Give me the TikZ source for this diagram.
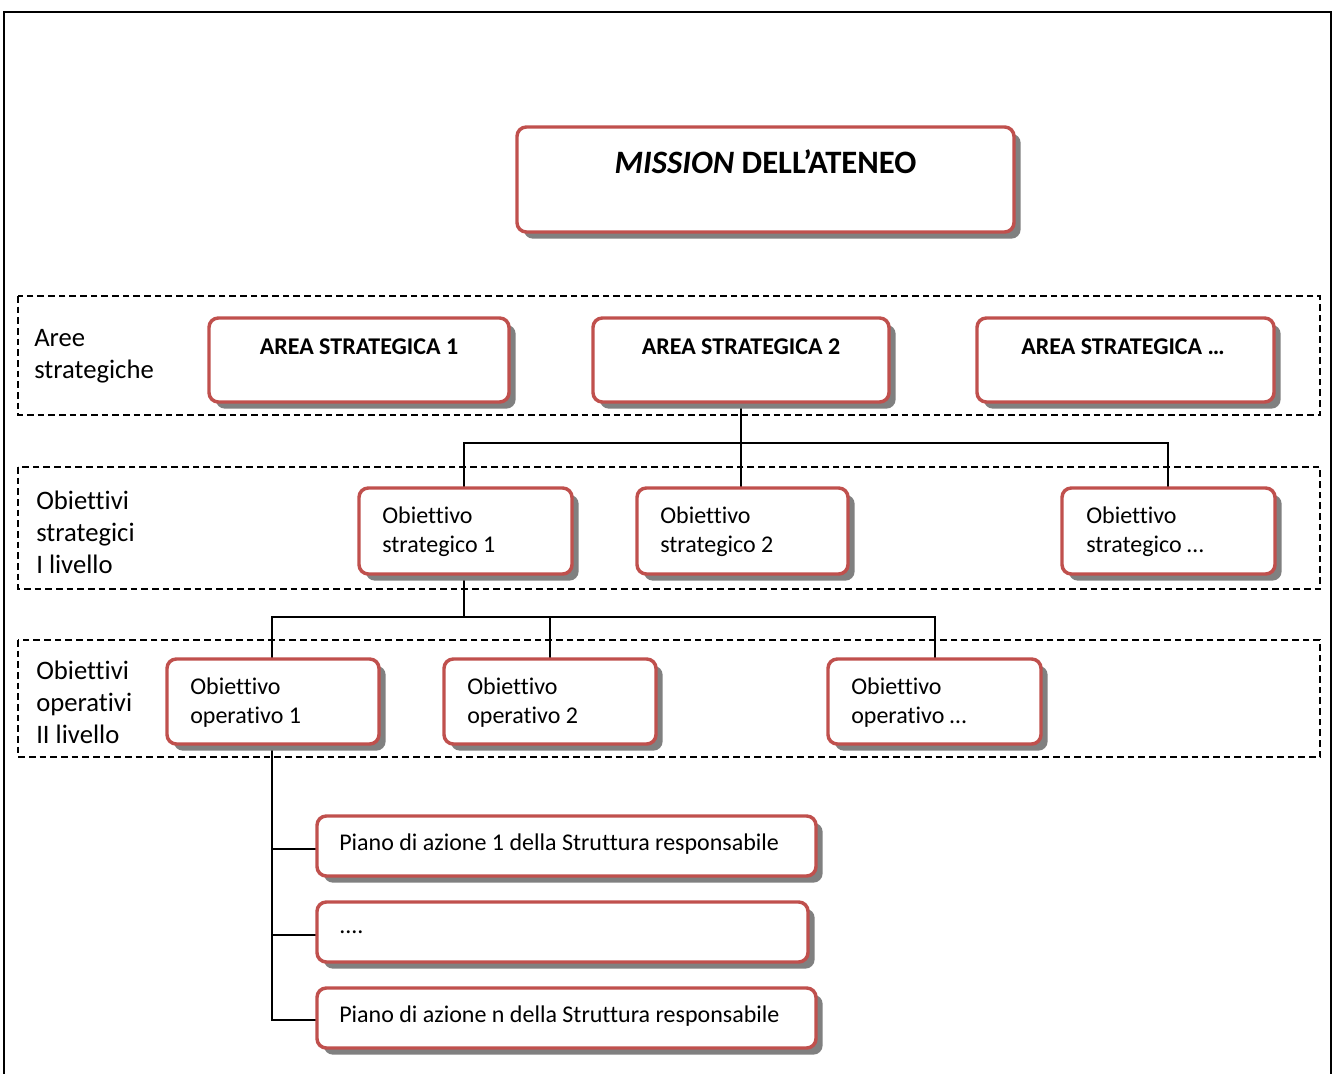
\documentclass[tikz,border=0pt]{standalone}
\usepackage{fontspec}
\setmainfont{Carlito}[RawFeature=-liga]
\usetikzlibrary{shadows}
\definecolor{boxred}{HTML}{C0504D}
\definecolor{shadowgray}{HTML}{808080}
\begin{document}
\begin{tikzpicture}[x=0.75pt,y=-0.75pt,
  rbox/.style={draw=boxred, line width=2.6pt, fill=white, rounded corners=7pt,
    drop shadow={shadow xshift=5pt, shadow yshift=-5pt, fill=shadowgray, opacity=1},
    inner sep=0pt},
  band/.style={draw=black, line width=1.5pt, dash pattern=on 5pt off 3pt},
  conn/.style={draw=black, line width=1.5pt},
  lbl/.style={anchor=west, align=left, inner sep=0pt, font=\fontsize{20}{24}\selectfont},
  btxt/.style={anchor=west, align=left, inner sep=0pt, font=\fontsize{18}{21.75}\selectfont},
  atxt/.style={inner sep=0pt, font=\bfseries\fontsize{18}{21}\selectfont},
  mtxt/.style={inner sep=0pt, font=\bfseries\fontsize{24.5}{28}\selectfont}
]
\useasboundingbox (0,0) rectangle (1335,1074);
% outer frame
\draw[line width=1.5pt] (4,1080) -- (4,12) -- (1331,12) -- (1331,1080);

% dashed bands
\draw[band] (18,296) rectangle (1320,415);
\draw[band] (18,467) rectangle (1320,589);
\draw[band] (18,640) rectangle (1320,757);

% band labels
\node[lbl] (l1) at (34,356) {Aree\\strategiche};
\node[lbl] (l2) at (36,532) {Obiettivi\\strategici\\I livello};
\node[lbl] (l3) at (36,702) {Obiettivi\\operativi\\II livello};

% coordinates of boxes (for connectors)
\coordinate (as2s) at (741,402);
\coordinate (j1) at (741,443);
\coordinate (os1n) at (464,488);
\coordinate (os2n) at (741,488);
\coordinate (os3n) at (1168,488);
\coordinate (os1s) at (464,574);
\coordinate (j2) at (464,617);
\coordinate (oo1n) at (272,659);
\coordinate (oo2n) at (550,659);
\coordinate (oo3n) at (935,659);
\coordinate (oo1s) at (272,744);
\coordinate (p1w) at (317,849);
\coordinate (p2w) at (317,935);
\coordinate (pnw) at (317,1020);

% connectors
\draw[conn] (as2s) -- (j1);
\draw[conn] (os1n) |- (j1) -| (os3n);
\draw[conn] (j1) -- (os2n);
\draw[conn] (os1s) -- (j2);
\draw[conn] (oo1n) |- (j2) -| (oo3n);
\draw[conn] (j2) -| (oo2n);
\draw[conn] (oo1s) |- (pnw);
\draw[conn] (p1w) -- (p1w -| oo1s);
\draw[conn] (p2w) -- (p2w -| oo1s);

% boxes
\node[rbox, minimum width=372.75pt, minimum height=78.75pt] (mission) at (765.5,179.5) {};
\node[rbox, minimum width=225pt, minimum height=63pt] (as1) at (359,360) {};
\node[rbox, minimum width=222pt, minimum height=63pt] (as2) at (741,360) {};
\node[rbox, minimum width=222.75pt, minimum height=63pt] (as3) at (1125.5,360) {};
\node[rbox, minimum width=159.75pt, minimum height=64.5pt] (os1) at (465.5,531) {};
\node[rbox, minimum width=158.25pt, minimum height=64.5pt] (os2) at (742.5,531) {};
\node[rbox, minimum width=159.75pt, minimum height=64.5pt] (os3) at (1168.5,531) {};
\node[rbox, minimum width=159pt, minimum height=63.75pt] (oo1) at (273,701.5) {};
\node[rbox, minimum width=159pt, minimum height=63.75pt] (oo2) at (550,701.5) {};
\node[rbox, minimum width=159.75pt, minimum height=63.75pt] (oo3) at (934.5,701.5) {};
\node[rbox, minimum width=374.25pt, minimum height=45pt] (p1) at (566.5,846) {};
\node[rbox, minimum width=368.25pt, minimum height=45pt] (p2) at (562.5,932) {};
\node[rbox, minimum width=374.25pt, minimum height=45pt] (pn) at (566.5,1018) {};

% texts
\node[mtxt] (tmission) at (765.5,162) {\textit{MISSION} DELL’ATENEO};
\node[atxt] (tas1) at (359,347) {AREA STRATEGICA 1};
\node[atxt] (tas2) at (741,347) {AREA STRATEGICA 2};
\node[atxt] (tas3) at (1123,347) {AREA STRATEGICA …};
\node[btxt] (tos1) at (382,532) {Obiettivo\\strategico 1};
\node[btxt] (tos2) at (660,532) {Obiettivo\\strategico 2};
\node[btxt] (tos3) at (1086,532) {Obiettivo\\strategico …};
\node[btxt] (too1) at (190,703) {Obiettivo\\operativo 1};
\node[btxt] (too2) at (467,703) {Obiettivo\\operativo 2};
\node[btxt] (too3) at (851,703) {Obiettivo\\operativo …};
\node[btxt] (tp1) at (339,844) {Piano di azione 1 della Struttura responsabile};
\node[btxt] (tp2) at (339,932) {....};
\node[btxt] (tpn) at (339,1016) {Piano di azione n della Struttura responsabile};
\end{tikzpicture}
\end{document}
